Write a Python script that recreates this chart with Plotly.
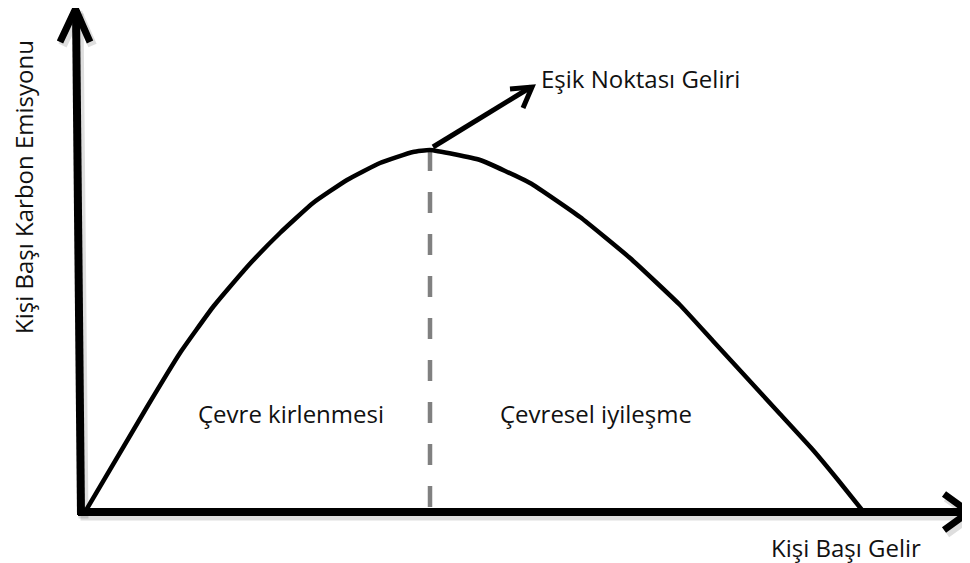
"""
Environmental Kuznets curve diagram (Turkish labels).
"""

import plotly.graph_objects as go

# curve (income, per-capita emission)
income = [0.4, 6.6, 9.9, 13.2, 16.6, 19.9, 23.2, 26.6, 29.9, 33.2, 34.9,
          39.9, 44.9, 49.9, 54.9, 59.9, 63.2, 66.6, 69.9, 73.2, 75.7, 78.1]
emission = [0.0, 10.5, 15.9, 20.5, 24.5, 27.9, 30.9, 33.2, 34.9, 36.0, 36.2,
            35.2, 32.9, 29.5, 25.4, 20.7, 17.1, 13.4, 9.8, 6.2, 3.2, 0.2]

turning_income = 34.9
turning_emission = 36.2

x_label = "Kişi Başı Gelir"
y_label = "Kişi Başı Karbon Emisyonu"
peak_label = "Eşik Noktası Geliri"
left_label = "Çevre kirlenmesi"
right_label = "Çevresel iyileşme"

FONT = "Open Sans"
BLACK = "#000000"
GREY = "#808080"
SHADOW = "rgba(0,0,0,0.13)"


def polyline(fig, xs, ys, width, color=BLACK, shadow=True):
    if shadow:
        fig.add_trace(go.Scatter(
            x=[v + 0.25 for v in xs], y=[v - 0.35 for v in ys], mode="lines",
            line=dict(color=SHADOW, width=width + 2), hoverinfo="skip", showlegend=False))
    fig.add_trace(go.Scatter(
        x=xs, y=ys, mode="lines", line=dict(color=color, width=width),
        hoverinfo="skip", showlegend=False))


fig = go.Figure()

# axes with arrow heads
polyline(fig, [-0.5, 0.0], [50.2, -0.3], 8)
polyline(fig, [-2.1, -0.55, 0.9], [47.0, 50.3, 47.0], 7)
polyline(fig, [-0.3, 88.6], [0.0, 0.0], 8)
polyline(fig, [86.3, 88.8, 86.3], [1.8, 0.0, -1.8], 7)

# threshold dashed line
fig.add_trace(go.Scatter(
    x=[turning_income, turning_income], y=[turning_emission, 0.0], mode="lines",
    line=dict(color=GREY, width=4.5, dash="21px,21px"), hoverinfo="skip", showlegend=False))

# the curve
fig.add_trace(go.Scatter(
    x=income, y=emission, mode="lines",
    line=dict(color=BLACK, width=4.5, shape="spline", smoothing=0.4),
    hoverinfo="skip", showlegend=False))

# pointer to the threshold income
polyline(fig, [35.2, 45.0], [36.5, 42.5], 5, shadow=False)
polyline(fig, [42.9, 45.1, 44.2], [42.3, 42.5, 40.4], 5, shadow=False)

texts = [
    (peak_label, 45.9, 43.4, "left", 0),
    (left_label, 21.0, 9.9, "center", 0),
    (right_label, 51.5, 9.9, "center", 0),
    (x_label, 84.1, -3.5, "right", 0),
    (y_label, -5.8, 32.5, "center", -90),
]
for txt, x, y, xanchor, angle in texts:
    fig.add_annotation(x=x, y=y, text=txt, showarrow=False, xanchor=xanchor,
                       yanchor="middle", textangle=angle, borderpad=0,
                       font=dict(family=FONT, size=24, color="#111111"))

# page body has an 8px margin, so the ranges are shifted to keep the layout in place
fig.update_layout(
    width=970, height=563,
    margin=dict(l=0, r=0, t=0, b=0),
    plot_bgcolor="white", paper_bgcolor="white",
    xaxis=dict(range=[-7.3, 89.7], visible=False, fixedrange=True),
    yaxis=dict(range=[-5.9, 50.4], visible=False, fixedrange=True),
    showlegend=False,
)

fig.write_html("out.html")
